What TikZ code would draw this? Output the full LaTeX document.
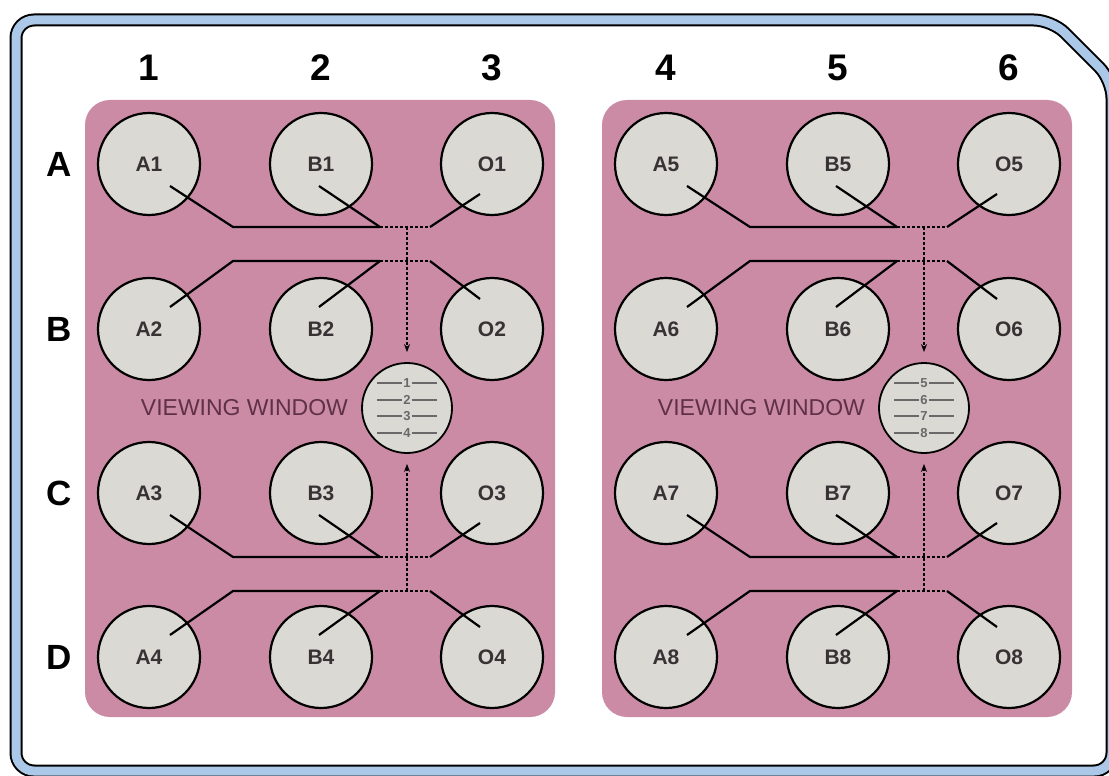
\documentclass[tikz,border=0pt]{standalone}
\usepackage{fontspec}
\setmainfont{Liberation Sans}
\usepackage{xcolor}
\usepackage{tikz}
\usetikzlibrary{positioning,arrows.meta,calc}

\definecolor{panelpink}{RGB}{203,139,165}
\definecolor{wellgray}{RGB}{218,217,212}
\definecolor{frameblue}{RGB}{172,200,232}
\definecolor{welltext}{RGB}{55,50,52}
\definecolor{viewtext}{RGB}{95,48,72}
\definecolor{wingray}{RGB}{105,105,105}

\begin{document}
\begin{tikzpicture}[
	x=1pt, y=-1pt,
	>={Stealth[length=8pt,width=6pt]},
	panel/.style={
		rectangle,
		fill=panelpink,
		rounded corners=25pt,
		minimum width=470pt,
		minimum height=617pt
	},
	well/.style={
		circle,
		draw,
		line width=2.2pt,
		fill=wellgray,
		minimum size=102pt,
		inner sep=0pt,
		text=welltext,
		font=\fontsize{21}{23}\selectfont\bfseries
	},
	window/.style={
		circle,
		draw,
		line width=1.8pt,
		fill=wellgray,
		minimum size=90pt,
		inner sep=0pt
	},
	winnum/.style={
		inner sep=1.5pt,
		text=wingray,
		font=\fontsize{13}{14}\selectfont\bfseries
	},
	winline/.style={draw=wingray, line width=1.8pt},
	collabel/.style={font=\fontsize{37}{40}\selectfont\bfseries},
	rowlabel/.style={font=\fontsize{35}{38}\selectfont\bfseries},
	viewlabel/.style={inner sep=0pt, text=viewtext, font=\fontsize{23}{25}\selectfont},
	wire/.style={draw, line width=2.2pt},
	dotwire/.style={draw, line width=2pt, dash pattern=on 3pt off 2pt},
	frame/.style={draw, line width=2pt, double=frameblue, double distance=9pt, rounded corners=18pt}
	]
	\useasboundingbox (0,0) rectangle (1109,776);
	\fill[white] (0,0) rectangle (1109,776);
	
	% plate outline
	\draw[frame] (16,400) -- (16,20) -- (1052,20) -- (1112,80) -- (1112,771) -- (16,771) -- cycle;
	
	% column and row labels
	\foreach \cl/\cx in {1/149,2/321,3/492,4/666,5/838,6/1009}
		\node[collabel] (col\cl) at (\cx,68) {\cl};
	\foreach \rl/\ry in {A/164,B/329,C/493,D/657}
		\node[rowlabel] (row\rl) at (59,\ry) {\rl};
	
	% two blocks
	\foreach \p [evaluate=\p as \htop using {int(1+4*\p)}, evaluate=\p as \hbot using {int(4+4*\p)}] in {0,1} {
		\node[panel] (panel\p) at (320+517*\p,408.5) {};
		
		% wells
		\foreach \r/\ry [evaluate=\r as \n using {int(\r+4*\p)}] in {1/164,2/329,3/493,4/657} {
			\node[well] (A\n) at (149+517*\p,\ry) {A\n};
			\node[well] (B\n) at (321+517*\p,\ry) {B\n};
			\node[well] (O\n) at (492+517*\p,\ry) {O\n};
		}
		
		% viewing window
		\node[window] (win\p) at (407+517*\p,408) {};
		\node[viewlabel, left=13pt of win\p] (view\p) {VIEWING WINDOW};
		\foreach \k [evaluate=\k as \m using {int(\k+4*\p)}] in {1,...,4} {
			\node[winnum] (num\m) at (407+517*\p,408+16.5*\k-41.25) {\m};
			\draw[winline] (num\m.west) -- ++(-25,0);
			\draw[winline] (num\m.east) -- ++(25,0);
		}
		
		% channels
		\foreach \r/\hy/\s [evaluate=\r as \n using {int(\r+4*\p)}] in {1/227/1,2/261/-1,3/557/1,4/591/-1} {
			\coordinate (hub\n) at (407+517*\p,\hy);
			\draw[wire] ($(A\n)+(21,22*\s)$) -- ($(hub\n)+(-174,0)$) -- ($(hub\n)+(-27,0)$);
			\draw[wire] ($(B\n)+(-2,22*\s)$) -- ($(hub\n)+(-27,0)$);
			\draw[dotwire] ($(hub\n)+(-27,0)$) -- ($(hub\n)+(23,0)$);
			\draw[wire] ($(hub\n)+(23,0)$) -- ($(O\n)+(-12,30*\s)$);
		}
		\draw[dotwire,->,shorten >=10pt] (hub\htop) -- (win\p.north);
		\draw[dotwire,->,shorten >=10pt] (hub\hbot) -- (win\p.south);
	}
	
\end{tikzpicture}
\end{document}
